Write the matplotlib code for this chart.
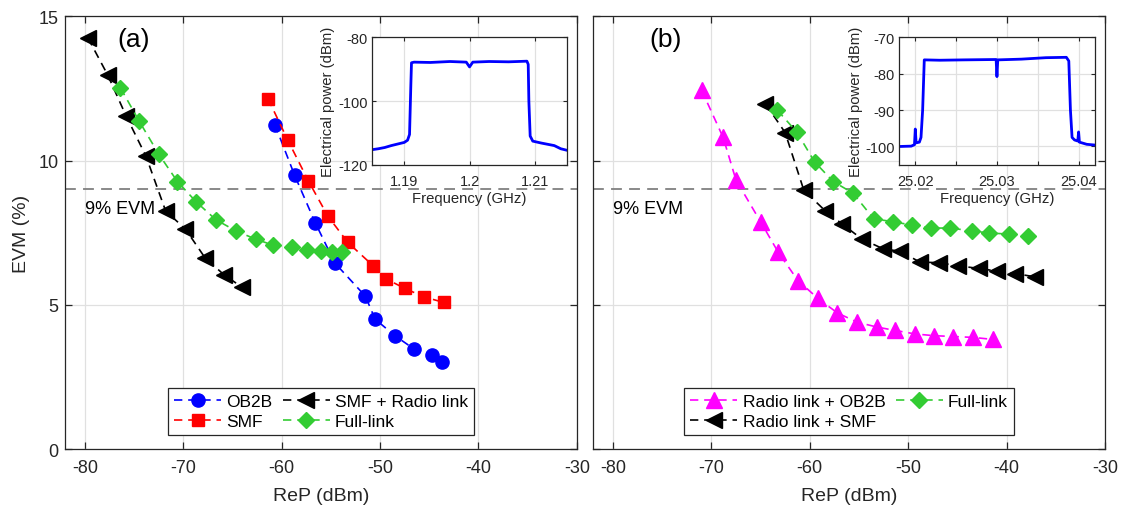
import numpy as np
import matplotlib
matplotlib.use("Agg")
import matplotlib.pyplot as plt

plt.rcParams['font.family'] = ['Liberation Sans', 'DejaVu Sans']
plt.rcParams['axes.unicode_minus'] = False

# ---- panel (a) data, EVM (%) vs received power (dBm)
ob2b_x = [-60.7, -58.7, -56.6, -54.6, -51.5, -50.5, -48.5, -46.6, -44.7, -43.7]
ob2b_y = [11.25, 9.5, 7.85, 6.45, 5.3, 4.5, 3.93, 3.48, 3.25, 3.03]
smf_x = [-61.4, -59.4, -57.3, -55.3, -53.3, -50.7, -49.4, -47.5, -45.5, -43.5]
smf_y = [12.15, 10.72, 9.3, 8.07, 7.17, 6.35, 5.9, 5.57, 5.27, 5.08]
smf_radio_x = [-79.7, -77.7, -75.8, -73.8, -71.8, -69.8, -67.8, -65.9, -64.0]
smf_radio_y = [14.25, 12.97, 11.53, 10.15, 8.25, 7.63, 6.63, 6.05, 5.6]
full_a_x = [-76.4, -74.5, -72.5, -70.6, -68.7, -66.7, -64.6, -62.6, -60.9,
            -59.0, -57.4, -56.0, -54.9, -53.9]
full_a_y = [12.52, 11.37, 10.22, 9.27, 8.57, 7.95, 7.55, 7.27, 7.07,
            6.99, 6.9, 6.86, 6.84, 6.84]

# ---- panel (b) data
radio_ob2b_x = [-71.0, -68.8, -67.5, -65.0, -63.2, -61.2, -59.2, -57.2,
                -55.2, -53.2, -51.3, -49.3, -47.4, -45.4, -43.4, -41.4]
radio_ob2b_y = [12.45, 10.8, 9.33, 7.88, 6.82, 5.84, 5.23, 4.72,
                4.4, 4.23, 4.11, 3.99, 3.93, 3.9, 3.87, 3.8]
radio_smf_x = [-64.5, -62.5, -60.6, -58.4, -56.7, -54.7, -52.6, -50.8,
               -48.8, -46.9, -44.9, -42.8, -41.0, -39.1, -37.1]
radio_smf_y = [11.97, 10.97, 8.97, 8.25, 7.8, 7.28, 6.95, 6.85,
               6.48, 6.46, 6.35, 6.26, 6.17, 6.08, 5.97]
full_b_x = [-63.3, -61.3, -59.5, -57.6, -55.6, -53.5, -51.5, -49.6,
            -47.7, -45.7, -43.5, -41.8, -39.7, -37.8]
full_b_y = [11.75, 10.98, 9.95, 9.27, 8.87, 7.98, 7.88, 7.76,
            7.66, 7.66, 7.56, 7.49, 7.45, 7.37]

evm_limit = 9

# ---- inset spectra
spec_a_f = [1.1850, 1.1860, 1.1870, 1.1880, 1.1890, 1.1900, 1.1905, 1.1908,
            1.1910, 1.1911, 1.1915, 1.1940, 1.1970, 1.1995, 1.2000, 1.2005,
            1.2030, 1.2060, 1.2088, 1.2090, 1.2091, 1.2093, 1.2097, 1.2110,
            1.2130, 1.2140, 1.2150]
spec_a_p = [-115.3, -115.0, -114.6, -114.0, -113.5, -113.0, -112.3, -110.5,
            -95.0, -88.0, -87.8, -87.9, -87.6, -87.8, -89.3, -87.8,
            -87.6, -87.7, -87.5, -88.5, -100.0, -111.0, -112.6, -113.2,
            -114.0, -115.0, -115.5]
spec_b_f = [25.0180, 25.0195, 25.0199, 25.0200, 25.0201, 25.0205, 25.0207,
            25.0209, 25.0211, 25.0230, 25.0260, 25.0299, 25.0300, 25.0301,
            25.0330, 25.0360, 25.0385, 25.0388, 25.0390, 25.0392, 25.0395,
            25.0399, 25.0400, 25.0401, 25.0410, 25.0420]
spec_b_p = [-100.0, -99.9, -99.5, -95.2, -99.0, -98.8, -97.5,
            -90.0, -76.2, -76.3, -76.2, -76.1, -80.8, -76.2,
            -76.0, -75.6, -75.5, -76.5, -90.0, -97.5, -98.2,
            -98.5, -96.0, -98.8, -99.4, -99.6]

dark = '#262626'
green = '#33cc33'
magenta = '#ff00ff'
dash = (0, (5, 3.5))

fig = plt.figure(figsize=(11.23, 5.1), dpi=100)
ax1 = fig.add_axes([0.0582, 0.1176, 0.4554, 0.8484])
ax2 = fig.add_axes([0.5283, 0.1176, 0.4556, 0.8484])


def style_main(ax):
    ax.set_xlim(-82, -30)
    ax.set_ylim(0, 15)
    ax.set_xticks([-80, -70, -60, -50, -40, -30])
    ax.set_yticks([0, 5, 10, 15])
    ax.grid(True, color='#e0e0e0', linewidth=0.9)
    ax.set_axisbelow(True)
    ax.tick_params(direction='in', top=True, right=True, labelsize=13,
                   colors=dark, length=5, width=0.9)
    ax.tick_params(axis='x', pad=7)
    ax.tick_params(axis='y', pad=5)
    for s in ax.spines.values():
        s.set_color(dark)
        s.set_linewidth(0.9)
    ax.axhline(evm_limit, color='#808080', linestyle=(0, (6, 4)), linewidth=1.3, zorder=1)
    ax.text(-80, 8.35, '9% EVM', fontsize=13, color='k', va='center', ha='left')
    ax.set_xlabel('ReP (dBm)', fontsize=14, color=dark, labelpad=8)


mk = dict(linestyle=dash, linewidth=1.2)
ax1.plot(ob2b_x, ob2b_y, color='b', marker='o', markersize=9.5, label='OB2B', **mk)
ax1.plot(smf_x, smf_y, color='r', marker='s', markersize=8, label='SMF', **mk)
ax1.plot(smf_radio_x, smf_radio_y, color='k', marker='<', markersize=11.5,
         label='SMF + Radio link', **mk)
ax1.plot(full_a_x, full_a_y, color=green, marker='D', markersize=8.2,
         label='Full-link', **mk)
style_main(ax1)
ax1.set_ylabel('EVM (%)', fontsize=14, color=dark, labelpad=6)
ax1.text(-75.1, 14.2, '(a)', fontsize=19, ha='center', va='center')

ax2.plot(radio_ob2b_x, radio_ob2b_y, color=magenta, marker='^', markersize=11.5,
         label='Radio link + OB2B', **mk)
ax2.plot(radio_smf_x, radio_smf_y, color='k', marker='<', markersize=11.5,
         label='Radio link + SMF', **mk)
ax2.plot(full_b_x, full_b_y, color=green, marker='D', markersize=8.2,
         label='Full-link', **mk)
style_main(ax2)
ax2.set_yticklabels([])
ax2.text(-74.7, 14.2, '(b)', fontsize=19, ha='center', va='center')

for ax in (ax1, ax2):
    leg = ax.legend(ncol=2, loc='center', bbox_to_anchor=(0.5, 0.087), fontsize=12.5,
                    handlelength=2.7, columnspacing=0.6, handletextpad=0.3,
                    labelspacing=0.25, borderpad=0.35, fancybox=False,
                    edgecolor=dark, framealpha=1)
    leg.get_frame().set_linewidth(0.9)

# ---- insets
in1 = fig.add_axes([0.331, 0.6751, 0.1742, 0.2498])
in2 = fig.add_axes([0.8005, 0.6751, 0.1745, 0.2498])

in1.plot(spec_a_f, spec_a_p, color='b', linewidth=2)
in1.set_xlim(1.185, 1.215)
in1.set_ylim(-120, -80)
in1.set_xticks([1.19, 1.2, 1.21])
in1.set_xticklabels(['1.19', '1.2', '1.21'])
in1.set_yticks([-120, -100, -80])

in2.plot(spec_b_f, spec_b_p, color='b', linewidth=2)
in2.set_xlim(25.018, 25.042)
in2.set_ylim(-105, -70)
in2.set_xticks([25.02, 25.025, 25.03, 25.035, 25.04])
in2.set_xticklabels(['25.02', '', '25.03', '', '25.04'])
in2.set_yticks([-100, -90, -80, -70])

for ax in (in1, in2):
    ax.grid(True, color='#e0e0e0', linewidth=0.9)
    ax.tick_params(direction='in', top=True, right=True, labelsize=10.5,
                   colors=dark, length=3, width=0.8)
    ax.tick_params(axis='x', pad=7)
    ax.tick_params(axis='y', pad=3)
    for s in ax.spines.values():
        s.set_color(dark)
        s.set_linewidth(0.9)
    ax.set_xlabel('Frequency (GHz)', fontsize=10.7, color=dark, labelpad=2)
    ax.set_ylabel('Electrical power (dBm)', fontsize=10.7, color=dark, labelpad=2)

fig.savefig('out.png', dpi=100)
